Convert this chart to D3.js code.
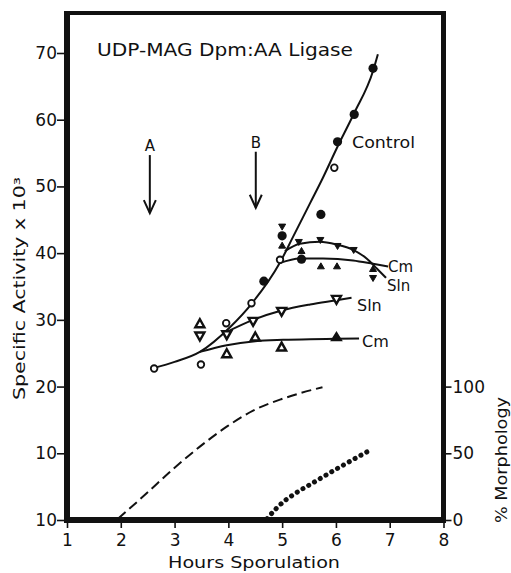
<!DOCTYPE html>
<html><head><meta charset="utf-8">
<script src="https://cdn.jsdelivr.net/npm/d3@7"></script>
<style>body{margin:0;background:#fff}svg{display:block}</style>
</head><body>
<svg id="c" width="511" height="573"></svg>
<script>
// ---- data ----
const xTicks = [1,2,3,4,5,6,7,8];
const yTicks = [0,10,20,30,40,50,60,70];
const yTickLabels = ["10","10","20","30","40","50","60","70"];
const morphTicks = [0,50,100];
const morphTickLabels = ["0","50","100"];

// curves (hours, specific activity x10^3)
const controlCurve = [[2.62,22.8],[3.0,23.7],[3.47,25.2],[4.03,28.9],[4.45,32.6],[4.96,38.6],[5.2,42.4],[5.52,47.5],[5.74,51.0],[6.02,55.8],[6.34,61.0],[6.69,67.3],[6.78,69.8]];
const cmTopCurve = [[4.95,38.5],[5.33,39.2],[5.76,39.2],[6.32,38.9],[6.69,38.4],[6.97,38.0]];
const slnTopCurve = [[5.05,40.3],[5.33,41.4],[5.70,41.7],[6.01,41.3],[6.32,40.5],[6.57,39.2],[6.76,37.7],[6.93,36.3]];
const slnMidCurve = [[3.97,28.2],[4.46,30.0],[4.99,31.4],[5.52,32.3],[5.98,32.9],[6.29,33.3]];
const cmLowCurve = [[3.47,25.2],[3.97,26.2],[4.5,26.8],[5.02,27.0],[5.52,27.1],[6.0,27.15],[6.43,27.2]];

// markers
const controlOpen = [[2.62,22.7],[3.49,23.3],[3.96,29.5],[4.43,32.5],[4.96,39.0],[5.97,52.8]];
const controlFilled = [[4.66,35.8],[5.0,42.6],[5.36,39.1],[5.72,45.8],[6.03,56.7],[6.34,60.8],[6.69,67.7]];
const slnOpen = [[3.47,27.5],[3.97,27.7],[4.46,29.7],[4.99,31.2],[6.01,33.0]];
const cmOpen = [[3.47,29.5],[3.97,25.0],[4.5,27.5],[4.99,26.0]];
const cmLowFilled = [[6.01,27.5]];
const slnFilled = [[5.0,43.9],[5.31,41.6],[5.71,41.9],[6.03,41.0],[6.33,40.4],[6.69,36.2]];
const cmFilled = [[5.0,41.2],[5.36,40.4],[5.72,38.1],[6.02,38.1],[6.69,37.7]];

// % morphology (right axis)
const morphDashed = [[1.95,1],[2.48,20],[2.98,38.5],[3.47,55],[3.99,70.5],[4.46,82],[4.98,90.5],[5.33,95],[5.75,99.5]];
const morphDotted = [[4.72,1],[4.9,9],[5.05,14.5],[5.21,19],[5.6,28.5],[6.0,38],[6.62,52]];

// arrows
const arrows = [{label:"A", h:2.54, from:54.7, to:46.0},{label:"B", h:4.51, from:55.2, to:46.8}];

// ---- drawing ----
const FONT = "'DejaVu Sans', sans-serif";
const svg = d3.select("#c");
const x = d3.scaleLinear().domain([1,8]).range([67,443.5]);
const y = d3.scaleLinear().domain([0,70]).range([520,53]);
const ym = d3.scaleLinear().domain([0,100]).range([520,386.6]);
const ink = "#111";

// axes
const gl = svg.append("g").attr("transform","translate(67,0)")
  .call(d3.axisLeft(y).tickValues(yTicks).tickFormat((d,i)=>yTickLabels[i]).tickSize(10).tickPadding(0));
const gb = svg.append("g").attr("transform","translate(0,520)")
  .call(d3.axisBottom(x).tickValues(xTicks).tickFormat(d3.format("d")).tickSize(8).tickPadding(6));
const gr = svg.append("g").attr("transform","translate(443.5,0)")
  .call(d3.axisRight(ym).tickValues(morphTicks).tickFormat((d,i)=>morphTickLabels[i]).tickSize(8).tickPadding(1));
[gl,gb,gr].forEach(g=>{
  g.select(".domain").remove();
  g.selectAll("line").attr("stroke",ink).attr("stroke-width",1.6);
  g.selectAll("text").attr("fill",ink).style("font-family",FONT).style("font-size","17px");
});

// frame
const frameTop = y(76);
svg.append("line").attr("x1",x(1)).attr("x2",x(1)).attr("y1",frameTop-2).attr("y2",y(0)+3).attr("stroke",ink).attr("stroke-width",6);
svg.append("line").attr("x1",x(1)-3).attr("x2",x(8)+2.5).attr("y1",y(0)).attr("y2",y(0)).attr("stroke",ink).attr("stroke-width",6);
svg.append("line").attr("x1",x(8)).attr("x2",x(8)).attr("y1",frameTop-2).attr("y2",y(0)+3).attr("stroke",ink).attr("stroke-width",5);
svg.append("line").attr("x1",x(1)-3).attr("x2",x(8)+2.5).attr("y1",frameTop).attr("y2",frameTop).attr("stroke",ink).attr("stroke-width",4);

// curves
const line = d3.line().x(d=>x(d[0])).y(d=>y(d[1])).curve(d3.curveMonotoneX);
[controlCurve,cmTopCurve,slnTopCurve,slnMidCurve,cmLowCurve].forEach(c=>{
  svg.append("path").attr("d",line(c)).attr("fill","none").attr("stroke",ink).attr("stroke-width",2);
});
const lineM = d3.line().x(d=>x(d[0])).y(d=>ym(d[1])).curve(d3.curveMonotoneX);
svg.append("path").attr("d",lineM(morphDashed)).attr("fill","none").attr("stroke",ink).attr("stroke-width",2).attr("stroke-dasharray","10 5");
svg.append("path").attr("d",lineM(morphDotted)).attr("fill","none").attr("stroke",ink).attr("stroke-width",5).attr("stroke-linecap","round").attr("stroke-dasharray","0.1 6.6");

// markers
function tri(d, w, h, down){
  const cx = x(d[0]), cy = y(d[1]);
  if(down) return `M${cx-w/2},${cy-h/2}L${cx+w/2},${cy-h/2}L${cx},${cy+h/2}Z`;
  return `M${cx-w/2},${cy+h/2}L${cx+w/2},${cy+h/2}L${cx},${cy-h/2}Z`;
}
svg.selectAll(".so").data(slnOpen).join("path").attr("d",d=>tri(d,9,8,true)).attr("fill","#fff").attr("stroke",ink).attr("stroke-width",2.4);
svg.selectAll(".co").data(cmOpen).join("path").attr("d",d=>tri(d,9,8,false)).attr("fill","#fff").attr("stroke",ink).attr("stroke-width",2.4);
svg.selectAll(".cl").data(cmLowFilled).join("path").attr("d",d=>tri(d,10,8,false)).attr("fill",ink).attr("stroke",ink).attr("stroke-width",1.5);
svg.selectAll(".sf").data(slnFilled).join("path").attr("d",d=>tri(d,7,6,true)).attr("fill",ink).attr("stroke",ink).attr("stroke-width",1);
svg.selectAll(".cf").data(cmFilled).join("path").attr("d",d=>tri(d,7,6,false)).attr("fill",ink).attr("stroke",ink).attr("stroke-width",1);
svg.selectAll(".cfill").data(controlFilled).join("circle").attr("cx",d=>x(d[0])).attr("cy",d=>y(d[1])).attr("r",4.6).attr("fill",ink);
svg.selectAll(".copen").data(controlOpen).join("circle").attr("cx",d=>x(d[0])).attr("cy",d=>y(d[1])).attr("r",3.3).attr("fill","#fff").attr("stroke",ink).attr("stroke-width",1.8);

// arrows
arrows.forEach(a=>{
  const ax = x(a.h), y1 = y(a.from), y2 = y(a.to);
  svg.append("line").attr("x1",ax).attr("x2",ax).attr("y1",y1).attr("y2",y2).attr("stroke",ink).attr("stroke-width",2);
  svg.append("path").attr("d",`M${ax-6},${y2-13}L${ax},${y2}L${ax+6},${y2-13}`).attr("fill","none").attr("stroke",ink).attr("stroke-width",2);
  svg.append("text").attr("x",ax).attr("y",y1-4).attr("text-anchor","middle").style("font-family",FONT).style("font-size","15px").attr("fill",ink).text(a.label);
});

// texts
function txt(s, px, py, size, opts={}){
  const t = svg.append("text").attr("x",px).attr("y",py).style("font-family",FONT).style("font-size",size+"px").attr("fill",ink).text(s);
  if(opts.len) t.attr("textLength",opts.len).attr("lengthAdjust","spacingAndGlyphs");
  if(opts.anchor) t.attr("text-anchor",opts.anchor);
  if(opts.rot) t.attr("transform",`rotate(${opts.rot},${px},${py})`);
  return t;
}
txt("UDP-MAG Dpm:AA Ligase", 97, 56, 17, {len:256});
txt("Control", 352, 148, 16, {len:63});
txt("Cm", 388, 272, 15);
txt("Sln", 387, 291, 15);
txt("Sln", 357, 311, 16);
txt("Cm", 362, 347, 16);
txt("Hours Sporulation", 168, 568, 16, {len:172});
txt("Specific Activity x 10³", 25, 400, 16, {len:223, rot:-90});
txt("% Morphology", 507, 523, 16, {len:126, rot:-90});
</script>
</body></html>
